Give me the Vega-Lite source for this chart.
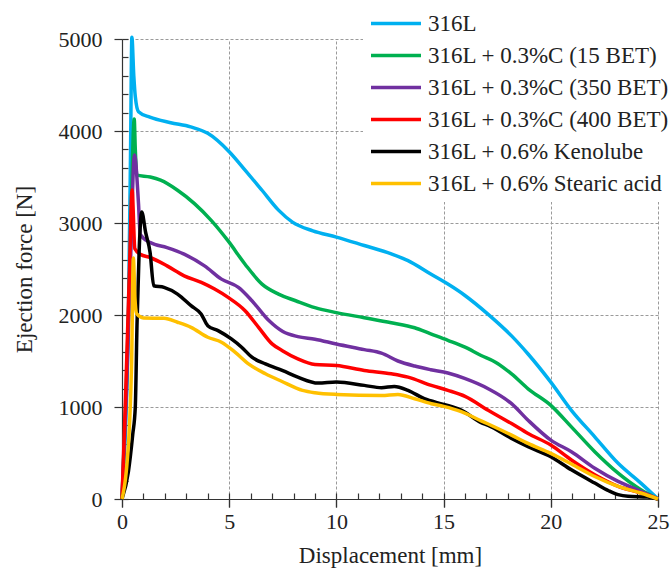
{
  "$schema": "https://vega.github.io/schema/vega-lite/v6.json",
  "autosize": "none",
  "width": 536,
  "height": 460,
  "padding": {"left": 122, "top": 39, "right": 12, "bottom": 78},
  "background": "white",
  "config": {
    "view": {"stroke": null},
    "font": "Liberation Serif",
    "axis": {
      "labelFont": "Liberation Serif",
      "labelFontSize": 22,
      "labelColor": "#222",
      "titleFont": "Liberation Serif",
      "titleFontSize": 23,
      "titleFontWeight": "normal",
      "titleColor": "#222",
      "domainColor": "#333",
      "domainWidth": 1.2,
      "tickColor": "#333",
      "tickWidth": 1.2
    },
    "legend": {
      "orient": "none",
      "legendX": 241,
      "legendY": -33,
      "title": null,
      "symbolType": "stroke",
      "symbolSize": 2500,
      "symbolStrokeWidth": 3.5,
      "labelFont": "Liberation Serif",
      "labelFontSize": 23,
      "labelColor": "#222",
      "labelOffset": 5,
      "rowPadding": 8,
      "clipHeight": 23,
      "fillColor": "white",
      "padding": 6,
      "labelLimit": 400
    }
  },
  "data": {
    "values": [
      {"s": "316L", "d": 0, "f": 0},
      {"s": "316L", "d": 0.3, "f": 2000},
      {"s": "316L", "d": 0.4, "f": 3800},
      {"s": "316L", "d": 0.46, "f": 5020},
      {"s": "316L", "d": 0.55, "f": 4600},
      {"s": "316L", "d": 0.62, "f": 4375},
      {"s": "316L", "d": 0.77, "f": 4210},
      {"s": "316L", "d": 1.3, "f": 4150},
      {"s": "316L", "d": 2.27, "f": 4090},
      {"s": "316L", "d": 3.2, "f": 4045},
      {"s": "316L", "d": 4.0, "f": 3975},
      {"s": "316L", "d": 5.0, "f": 3775},
      {"s": "316L", "d": 5.74, "f": 3575},
      {"s": "316L", "d": 6.53, "f": 3356},
      {"s": "316L", "d": 7.3, "f": 3140},
      {"s": "316L", "d": 7.95, "f": 3010},
      {"s": "316L", "d": 8.9, "f": 2915},
      {"s": "316L", "d": 10, "f": 2847},
      {"s": "316L", "d": 11.3, "f": 2755},
      {"s": "316L", "d": 12.56, "f": 2664},
      {"s": "316L", "d": 13.34, "f": 2591},
      {"s": "316L", "d": 14.4, "f": 2445},
      {"s": "316L", "d": 15.2, "f": 2336},
      {"s": "316L", "d": 15.98, "f": 2215},
      {"s": "316L", "d": 17.08, "f": 2007},
      {"s": "316L", "d": 18.17, "f": 1773},
      {"s": "316L", "d": 18.94, "f": 1576},
      {"s": "316L", "d": 20, "f": 1270},
      {"s": "316L", "d": 20.96, "f": 964},
      {"s": "316L", "d": 22.05, "f": 676},
      {"s": "316L", "d": 23.14, "f": 388},
      {"s": "316L", "d": 24.2, "f": 173},
      {"s": "316L", "d": 25, "f": 0},

      {"s": "316L + 0.3%C (15 BET)", "d": 0, "f": 0},
      {"s": "316L + 0.3%C (15 BET)", "d": 0.2, "f": 1200},
      {"s": "316L + 0.3%C (15 BET)", "d": 0.4, "f": 2800},
      {"s": "316L + 0.3%C (15 BET)", "d": 0.57, "f": 4130},
      {"s": "316L + 0.3%C (15 BET)", "d": 0.62, "f": 3800},
      {"s": "316L + 0.3%C (15 BET)", "d": 0.69, "f": 3520},
      {"s": "316L + 0.3%C (15 BET)", "d": 1.32, "f": 3500},
      {"s": "316L + 0.3%C (15 BET)", "d": 1.8, "f": 3465},
      {"s": "316L + 0.3%C (15 BET)", "d": 2.59, "f": 3356},
      {"s": "316L + 0.3%C (15 BET)", "d": 3.38, "f": 3211},
      {"s": "316L + 0.3%C (15 BET)", "d": 4.16, "f": 3029},
      {"s": "316L + 0.3%C (15 BET)", "d": 4.95, "f": 2805},
      {"s": "316L + 0.3%C (15 BET)", "d": 5.74, "f": 2552},
      {"s": "316L + 0.3%C (15 BET)", "d": 6.53, "f": 2336},
      {"s": "316L + 0.3%C (15 BET)", "d": 7.3, "f": 2227},
      {"s": "316L + 0.3%C (15 BET)", "d": 8.1, "f": 2155},
      {"s": "316L + 0.3%C (15 BET)", "d": 9, "f": 2080},
      {"s": "316L + 0.3%C (15 BET)", "d": 10, "f": 2026},
      {"s": "316L + 0.3%C (15 BET)", "d": 11.3, "f": 1971},
      {"s": "316L + 0.3%C (15 BET)", "d": 12.56, "f": 1916},
      {"s": "316L + 0.3%C (15 BET)", "d": 13.65, "f": 1861},
      {"s": "316L + 0.3%C (15 BET)", "d": 14.4, "f": 1795},
      {"s": "316L + 0.3%C (15 BET)", "d": 15.2, "f": 1725},
      {"s": "316L + 0.3%C (15 BET)", "d": 16, "f": 1650},
      {"s": "316L + 0.3%C (15 BET)", "d": 16.75, "f": 1560},
      {"s": "316L + 0.3%C (15 BET)", "d": 17.4, "f": 1490},
      {"s": "316L + 0.3%C (15 BET)", "d": 18.17, "f": 1360},
      {"s": "316L + 0.3%C (15 BET)", "d": 18.94, "f": 1198},
      {"s": "316L + 0.3%C (15 BET)", "d": 20, "f": 1018},
      {"s": "316L + 0.3%C (15 BET)", "d": 20.96, "f": 784},
      {"s": "316L + 0.3%C (15 BET)", "d": 22.05, "f": 514},
      {"s": "316L + 0.3%C (15 BET)", "d": 23.14, "f": 281},
      {"s": "316L + 0.3%C (15 BET)", "d": 24.2, "f": 101},
      {"s": "316L + 0.3%C (15 BET)", "d": 25, "f": 0},

      {"s": "316L + 0.3%C (350 BET)", "d": 0, "f": 0},
      {"s": "316L + 0.3%C (350 BET)", "d": 0.2, "f": 1100},
      {"s": "316L + 0.3%C (350 BET)", "d": 0.4, "f": 2600},
      {"s": "316L + 0.3%C (350 BET)", "d": 0.58, "f": 3740},
      {"s": "316L + 0.3%C (350 BET)", "d": 0.77, "f": 3210},
      {"s": "316L + 0.3%C (350 BET)", "d": 0.85, "f": 2877},
      {"s": "316L + 0.3%C (350 BET)", "d": 1.32, "f": 2787},
      {"s": "316L + 0.3%C (350 BET)", "d": 2.1, "f": 2733},
      {"s": "316L + 0.3%C (350 BET)", "d": 2.9, "f": 2661},
      {"s": "316L + 0.3%C (350 BET)", "d": 3.85, "f": 2534},
      {"s": "316L + 0.3%C (350 BET)", "d": 4.64, "f": 2390},
      {"s": "316L + 0.3%C (350 BET)", "d": 5.43, "f": 2300},
      {"s": "316L + 0.3%C (350 BET)", "d": 6.06, "f": 2155},
      {"s": "316L + 0.3%C (350 BET)", "d": 6.85, "f": 1939},
      {"s": "316L + 0.3%C (350 BET)", "d": 7.5, "f": 1820},
      {"s": "316L + 0.3%C (350 BET)", "d": 8.2, "f": 1765},
      {"s": "316L + 0.3%C (350 BET)", "d": 9, "f": 1737},
      {"s": "316L + 0.3%C (350 BET)", "d": 10, "f": 1685},
      {"s": "316L + 0.3%C (350 BET)", "d": 11.3, "f": 1624},
      {"s": "316L + 0.3%C (350 BET)", "d": 12.1, "f": 1585},
      {"s": "316L + 0.3%C (350 BET)", "d": 12.87, "f": 1500},
      {"s": "316L + 0.3%C (350 BET)", "d": 13.65, "f": 1445},
      {"s": "316L + 0.3%C (350 BET)", "d": 14.4, "f": 1405},
      {"s": "316L + 0.3%C (350 BET)", "d": 15.2, "f": 1369},
      {"s": "316L + 0.3%C (350 BET)", "d": 15.98, "f": 1310},
      {"s": "316L + 0.3%C (350 BET)", "d": 17.08, "f": 1198},
      {"s": "316L + 0.3%C (350 BET)", "d": 18.17, "f": 1036},
      {"s": "316L + 0.3%C (350 BET)", "d": 18.94, "f": 856},
      {"s": "316L + 0.3%C (350 BET)", "d": 20, "f": 640},
      {"s": "316L + 0.3%C (350 BET)", "d": 20.96, "f": 514},
      {"s": "316L + 0.3%C (350 BET)", "d": 22.05, "f": 335},
      {"s": "316L + 0.3%C (350 BET)", "d": 23.14, "f": 191},
      {"s": "316L + 0.3%C (350 BET)", "d": 24.2, "f": 83},
      {"s": "316L + 0.3%C (350 BET)", "d": 25, "f": 0},

      {"s": "316L + 0.3%C (400 BET)", "d": 0, "f": 0},
      {"s": "316L + 0.3%C (400 BET)", "d": 0.15, "f": 1000},
      {"s": "316L + 0.3%C (400 BET)", "d": 0.35, "f": 2500},
      {"s": "316L + 0.3%C (400 BET)", "d": 0.47, "f": 3360},
      {"s": "316L + 0.3%C (400 BET)", "d": 0.6, "f": 2720},
      {"s": "316L + 0.3%C (400 BET)", "d": 0.85, "f": 2661},
      {"s": "316L + 0.3%C (400 BET)", "d": 1.32, "f": 2625},
      {"s": "316L + 0.3%C (400 BET)", "d": 2.1, "f": 2534},
      {"s": "316L + 0.3%C (400 BET)", "d": 2.9, "f": 2426},
      {"s": "316L + 0.3%C (400 BET)", "d": 3.7, "f": 2354},
      {"s": "316L + 0.3%C (400 BET)", "d": 4.32, "f": 2282},
      {"s": "316L + 0.3%C (400 BET)", "d": 4.95, "f": 2191},
      {"s": "316L + 0.3%C (400 BET)", "d": 5.74, "f": 2047},
      {"s": "316L + 0.3%C (400 BET)", "d": 6.37, "f": 1866},
      {"s": "316L + 0.3%C (400 BET)", "d": 7.0, "f": 1686},
      {"s": "316L + 0.3%C (400 BET)", "d": 7.5, "f": 1610},
      {"s": "316L + 0.3%C (400 BET)", "d": 8.2, "f": 1523},
      {"s": "316L + 0.3%C (400 BET)", "d": 9, "f": 1462},
      {"s": "316L + 0.3%C (400 BET)", "d": 10, "f": 1451},
      {"s": "316L + 0.3%C (400 BET)", "d": 11.3, "f": 1397},
      {"s": "316L + 0.3%C (400 BET)", "d": 12.56, "f": 1361},
      {"s": "316L + 0.3%C (400 BET)", "d": 13.34, "f": 1325},
      {"s": "316L + 0.3%C (400 BET)", "d": 14.43, "f": 1235},
      {"s": "316L + 0.3%C (400 BET)", "d": 15.2, "f": 1181},
      {"s": "316L + 0.3%C (400 BET)", "d": 16, "f": 1115},
      {"s": "316L + 0.3%C (400 BET)", "d": 17.08, "f": 964},
      {"s": "316L + 0.3%C (400 BET)", "d": 18.17, "f": 820},
      {"s": "316L + 0.3%C (400 BET)", "d": 18.94, "f": 712},
      {"s": "316L + 0.3%C (400 BET)", "d": 20, "f": 586},
      {"s": "316L + 0.3%C (400 BET)", "d": 20.96, "f": 424},
      {"s": "316L + 0.3%C (400 BET)", "d": 22.05, "f": 263},
      {"s": "316L + 0.3%C (400 BET)", "d": 23.14, "f": 137},
      {"s": "316L + 0.3%C (400 BET)", "d": 24.2, "f": 65},
      {"s": "316L + 0.3%C (400 BET)", "d": 25, "f": 0},

      {"s": "316L + 0.6% Kenolube", "d": 0, "f": 0},
      {"s": "316L + 0.6% Kenolube", "d": 0.3, "f": 300},
      {"s": "316L + 0.6% Kenolube", "d": 0.5, "f": 700},
      {"s": "316L + 0.6% Kenolube", "d": 0.62, "f": 1000},
      {"s": "316L + 0.6% Kenolube", "d": 0.7, "f": 1900},
      {"s": "316L + 0.6% Kenolube", "d": 0.8, "f": 2700},
      {"s": "316L + 0.6% Kenolube", "d": 0.92, "f": 3120},
      {"s": "316L + 0.6% Kenolube", "d": 1.1, "f": 2900},
      {"s": "316L + 0.6% Kenolube", "d": 1.31, "f": 2680},
      {"s": "316L + 0.6% Kenolube", "d": 1.48, "f": 2318},
      {"s": "316L + 0.6% Kenolube", "d": 1.96, "f": 2300},
      {"s": "316L + 0.6% Kenolube", "d": 2.59, "f": 2227},
      {"s": "316L + 0.6% Kenolube", "d": 3.22, "f": 2101},
      {"s": "316L + 0.6% Kenolube", "d": 3.69, "f": 2011},
      {"s": "316L + 0.6% Kenolube", "d": 4.0, "f": 1884},
      {"s": "316L + 0.6% Kenolube", "d": 4.48, "f": 1830},
      {"s": "316L + 0.6% Kenolube", "d": 5.1, "f": 1740},
      {"s": "316L + 0.6% Kenolube", "d": 5.58, "f": 1650},
      {"s": "316L + 0.6% Kenolube", "d": 6.06, "f": 1541},
      {"s": "316L + 0.6% Kenolube", "d": 6.69, "f": 1469},
      {"s": "316L + 0.6% Kenolube", "d": 7.5, "f": 1395},
      {"s": "316L + 0.6% Kenolube", "d": 8.2, "f": 1325},
      {"s": "316L + 0.6% Kenolube", "d": 9.15, "f": 1260},
      {"s": "316L + 0.6% Kenolube", "d": 10, "f": 1271},
      {"s": "316L + 0.6% Kenolube", "d": 11.3, "f": 1235},
      {"s": "316L + 0.6% Kenolube", "d": 12.1, "f": 1209},
      {"s": "316L + 0.6% Kenolube", "d": 12.7, "f": 1224},
      {"s": "316L + 0.6% Kenolube", "d": 13.34, "f": 1181},
      {"s": "316L + 0.6% Kenolube", "d": 14.1, "f": 1090},
      {"s": "316L + 0.6% Kenolube", "d": 15, "f": 1029},
      {"s": "316L + 0.6% Kenolube", "d": 15.84, "f": 964},
      {"s": "316L + 0.6% Kenolube", "d": 16.75, "f": 830},
      {"s": "316L + 0.6% Kenolube", "d": 17.08, "f": 800},
      {"s": "316L + 0.6% Kenolube", "d": 18.17, "f": 658},
      {"s": "316L + 0.6% Kenolube", "d": 18.94, "f": 568},
      {"s": "316L + 0.6% Kenolube", "d": 20, "f": 460},
      {"s": "316L + 0.6% Kenolube", "d": 20.96, "f": 317},
      {"s": "316L + 0.6% Kenolube", "d": 22.05, "f": 173},
      {"s": "316L + 0.6% Kenolube", "d": 22.7, "f": 90},
      {"s": "316L + 0.6% Kenolube", "d": 23.14, "f": 47},
      {"s": "316L + 0.6% Kenolube", "d": 23.6, "f": 29},
      {"s": "316L + 0.6% Kenolube", "d": 24.5, "f": 22},
      {"s": "316L + 0.6% Kenolube", "d": 25, "f": 0},

      {"s": "316L + 0.6% Stearic acid", "d": 0, "f": 0},
      {"s": "316L + 0.6% Stearic acid", "d": 0.2, "f": 300},
      {"s": "316L + 0.6% Stearic acid", "d": 0.35, "f": 800},
      {"s": "316L + 0.6% Stearic acid", "d": 0.45, "f": 1500},
      {"s": "316L + 0.6% Stearic acid", "d": 0.53, "f": 2620},
      {"s": "316L + 0.6% Stearic acid", "d": 0.6, "f": 2200},
      {"s": "316L + 0.6% Stearic acid", "d": 0.69, "f": 2011},
      {"s": "316L + 0.6% Stearic acid", "d": 1.0, "f": 1968},
      {"s": "316L + 0.6% Stearic acid", "d": 1.96, "f": 1964},
      {"s": "316L + 0.6% Stearic acid", "d": 2.59, "f": 1921},
      {"s": "316L + 0.6% Stearic acid", "d": 3.22, "f": 1866},
      {"s": "316L + 0.6% Stearic acid", "d": 4.0, "f": 1758},
      {"s": "316L + 0.6% Stearic acid", "d": 4.64, "f": 1704},
      {"s": "316L + 0.6% Stearic acid", "d": 5.27, "f": 1596},
      {"s": "316L + 0.6% Stearic acid", "d": 5.9, "f": 1469},
      {"s": "316L + 0.6% Stearic acid", "d": 6.69, "f": 1361},
      {"s": "316L + 0.6% Stearic acid", "d": 7.44, "f": 1280},
      {"s": "316L + 0.6% Stearic acid", "d": 8.42, "f": 1181},
      {"s": "316L + 0.6% Stearic acid", "d": 9, "f": 1155},
      {"s": "316L + 0.6% Stearic acid", "d": 10, "f": 1137},
      {"s": "316L + 0.6% Stearic acid", "d": 12.1, "f": 1126},
      {"s": "316L + 0.6% Stearic acid", "d": 12.87, "f": 1137},
      {"s": "316L + 0.6% Stearic acid", "d": 13.65, "f": 1090},
      {"s": "316L + 0.6% Stearic acid", "d": 14.43, "f": 1036},
      {"s": "316L + 0.6% Stearic acid", "d": 15, "f": 1007},
      {"s": "316L + 0.6% Stearic acid", "d": 15.82, "f": 950},
      {"s": "316L + 0.6% Stearic acid", "d": 16.75, "f": 850},
      {"s": "316L + 0.6% Stearic acid", "d": 17.08, "f": 815},
      {"s": "316L + 0.6% Stearic acid", "d": 18.17, "f": 694},
      {"s": "316L + 0.6% Stearic acid", "d": 18.94, "f": 604},
      {"s": "316L + 0.6% Stearic acid", "d": 20, "f": 496},
      {"s": "316L + 0.6% Stearic acid", "d": 20.96, "f": 381},
      {"s": "316L + 0.6% Stearic acid", "d": 22.05, "f": 245},
      {"s": "316L + 0.6% Stearic acid", "d": 23.14, "f": 137},
      {"s": "316L + 0.6% Stearic acid", "d": 24.2, "f": 65},
      {"s": "316L + 0.6% Stearic acid", "d": 25, "f": 0}
    ]
  },
  "resolve": {"axis": {"x": "independent", "y": "independent"}},
  "layer": [
    {
      "mark": {"type": "point", "opacity": 0},
      "encoding": {
        "x": {
          "field": "d",
          "type": "quantitative",
          "scale": {"domain": [0, 25], "nice": false},
          "axis": {
            "orient": "bottom",
            "values": [0,1,2,3,4,5,6,7,8,9,10,11,12,13,14,15,16,17,18,19,20,21,22,23,24,25],
            "tickSize": -6,
            "labels": false,
            "domain": false,
            "grid": false,
            "title": null
          }
        },
        "y": {
          "field": "f",
          "type": "quantitative",
          "scale": {"domain": [0, 5000], "nice": false},
          "axis": {
            "orient": "left",
            "values": [0,200,400,600,800,1000,1200,1400,1600,1800,2000,2200,2400,2600,2800,3000,3200,3400,3600,3800,4000,4200,4400,4600,4800,5000],
            "tickSize": -6,
            "labels": false,
            "domain": false,
            "grid": false,
            "title": null
          }
        }
      }
    },
    {
      "mark": {"type": "point", "opacity": 0},
      "encoding": {
        "x": {
          "field": "d",
          "type": "quantitative",
          "axis": {
            "orient": "top",
            "values": [0, 5, 10, 15, 20, 25],
            "tickSize": -8,
            "tickColor": "#333",
            "grid": true,
            "gridColor": "#9a9a9a",
            "gridDash": [3, 2],
            "gridWidth": 1,
            "gridOpacity": 1,
            "labels": false,
            "domain": false,
            "title": null,
            "offset": -460
          }
        },
        "y": {
          "field": "f",
          "type": "quantitative",
          "axis": {
            "orient": "right",
            "values": [1000, 2000, 3000, 4000, 5000],
            "grid": true,
            "gridColor": "#9a9a9a",
            "gridDash": [3, 2],
            "gridWidth": 1,
            "gridOpacity": 1,
            "ticks": false,
            "labels": false,
            "domain": false,
            "title": null
          }
        }
      }
    },
    {
      "mark": {"type": "line", "strokeWidth": 3.5, "interpolate": "monotone", "clip": false},
      "encoding": {
        "x": {
          "field": "d",
          "type": "quantitative",
          "axis": {
            "orient": "bottom",
            "title": "Displacement [mm]",
            "grid": false,
            "values": [0, 5, 10, 15, 20, 25],
            "tickSize": 8,
            "labelPadding": 4,
            "titlePadding": 12,
            "labelFlush": false,
            "labelOverlap": false
          }
        },
        "y": {
          "field": "f",
          "type": "quantitative",
          "axis": {
            "orient": "left",
            "title": "Ejection force [N]",
            "grid": false,
            "values": [0, 1000, 2000, 3000, 4000, 5000],
            "format": "d",
            "tickSize": 8,
            "labelPadding": 12,
            "titlePadding": 22,
            "labelFlush": false,
            "labelOverlap": false
          }
        },
        "color": {
          "field": "s",
          "type": "nominal",
          "sort": null,
          "scale": {
            "domain": ["316L", "316L + 0.3%C (15 BET)", "316L + 0.3%C (350 BET)", "316L + 0.3%C (400 BET)", "316L + 0.6% Kenolube", "316L + 0.6% Stearic acid"],
            "range": ["#00B0F0", "#00B050", "#7030A0", "#FF0000", "#000000", "#FFC000"]
          }
        }
      }
    }
  ]
}
